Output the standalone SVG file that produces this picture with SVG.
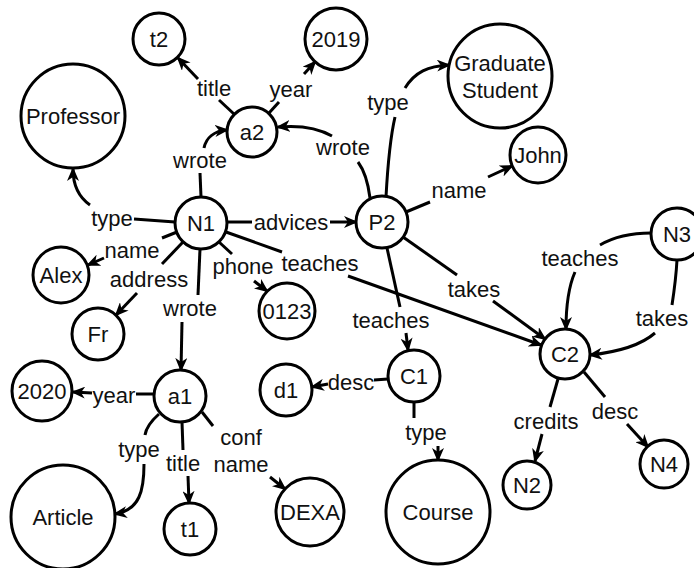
<svg xmlns="http://www.w3.org/2000/svg" width="694" height="568" viewBox="0 0 694 568">
<style>
.n{fill:#fff;stroke:#000;stroke-width:3}
text{font-family:"Liberation Sans",Arial,sans-serif;font-size:22px;fill:#111;text-anchor:middle}
.e{fill:none;stroke:#000;stroke-width:3}
.a{marker-end:url(#arr)}
</style>
<defs>
<marker id="arr" markerUnits="userSpaceOnUse" markerWidth="14" markerHeight="12" refX="12" refY="6" orient="auto" viewBox="0 0 14 12">
<path d="M0,0 L14,6 L0,12 L4,6 Z" fill="#000"/>
</marker>
</defs>
<rect width="694" height="568" fill="#fff"/>
<g id="edges">
<g id="e-n1-prof"><path class="e" d="M175,222 L134,219"/><path class="e a" d="M90,205 C80,198 73,188 73,169"/><text x="112" y="218" dy=".35em">type</text></g>
<g id="e-n1-a2"><path class="e" d="M201,197 L200,173"/><path class="e a" d="M204,148 C206,138 214,131 227,130"/><text x="200" y="160" dy=".35em">wrote</text></g>
<g id="e-a2-t2"><path class="e" d="M234,114 L219,100"/><path class="e a" d="M198,79 L178,58"/><text x="214" y="88" dy=".35em">title</text></g>
<g id="e-a2-2019"><path class="e" d="M269,113 L279,102"/><path class="e a" d="M304,74 L315,62"/><text x="291" y="89" dy=".35em">year</text></g>
<g id="e-p2-a2"><path class="e" d="M370,198 C368,182 364,170 358,162"/><path class="e a" d="M332,136 C318,128 300,125 278,127"/><text x="343" y="147" dy=".35em">wrote</text></g>
<g id="e-p2-grad"><path class="e" d="M386,197 C388,160 392,130 395,117"/><path class="e a" d="M405,88 C415,72 428,66 449,65"/><text x="388" y="102" dy=".35em">type</text></g>
<g id="e-p2-john"><path class="e" d="M406,212 L430,202"/><path class="e a" d="M488,177 L512,166"/><text x="459" y="190" dy=".35em">name</text></g>
<g id="e-n1-p2"><path class="e" d="M227,222 L252,222"/><path class="e a" d="M330,222 L356,222"/><text x="291" y="222" dy=".35em">advices</text></g>
<g id="e-n1-alex"><path class="e" d="M177,232 L162,238"/><path class="e a" d="M104,258 L88,265"/><text x="132" y="250" dy=".35em">name</text></g>
<g id="e-n1-fr"><path class="e" d="M183,242 L162,264"/><path class="e a" d="M137,293 L116,315"/><text x="149" y="279" dy=".35em">address</text></g>
<g id="e-n1-0123"><path class="e" d="M219,242 L232,254"/><path class="e a" d="M254,281 L267,291"/><text x="243" y="266" dy=".35em">phone</text></g>
<g id="e-n1-c2"><path class="e" d="M226,232 L282,252"/><path class="e a" d="M348,276 L541,345"/><text x="320" y="263" dy=".35em">teaches</text></g>
<g id="e-p2-c2"><path class="e" d="M403,237 L457,275"/><path class="e a" d="M493,301 L545,339"/><text x="474" y="289" dy=".35em">takes</text></g>
<g id="e-p2-c1"><path class="e" d="M387,248 L400,307"/><path class="e a" d="M406,333 L408,350"/><text x="391" y="320" dy=".35em">teaches</text></g>
<g id="e-n3-c2-teaches"><path class="e" d="M651,233 C630,233 612,238 600,245"/><path class="e a" d="M575,272 C568,288 566,308 566,329"/><text x="580" y="258" dy=".35em">teaches</text></g>
<g id="e-n3-c2-takes"><path class="e" d="M677,260 C676,278 674,292 672,305"/><path class="e a" d="M655,333 C640,346 618,352 590,355"/><text x="662" y="318" dy=".35em">takes</text></g>
<g id="e-c2-n2"><path class="e" d="M558,379 L550,407"/><path class="e a" d="M542,434 L535,461"/><text x="546" y="421" dy=".35em">credits</text></g>
<g id="e-c2-n4"><path class="e" d="M584,372 L605,397"/><path class="e a" d="M627,424 L648,447"/><text x="615" y="411" dy=".35em">desc</text></g>
<g id="e-c1-d1"><path class="e" d="M388,379 L374,380"/><path class="e a" d="M328,384 L312,387"/><text x="351" y="382" dy=".35em">desc</text></g>
<g id="e-c1-course"><path class="e" d="M414,402 L414,418"/><path class="e a" d="M438,446 L438,460"/><text x="426" y="432" dy=".35em">type</text></g>
<g id="e-n1-a1"><path class="e" d="M200,249 L198,295"/><path class="e a" d="M182,322 L181,370"/><text x="190" y="308" dy=".35em">wrote</text></g>
<g id="e-a1-2020"><path class="e" d="M154,394 L136,394"/><path class="e a" d="M92,393 L73,392"/><text x="114" y="395" dy=".35em">year</text></g>
<g id="e-a1-article"><path class="e" d="M159,414 C150,422 146,428 145,435"/><path class="e a" d="M144,464 C144,490 140,510 115,514"/><text x="139" y="449" dy=".35em">type</text></g>
<g id="e-a1-t1"><path class="e" d="M182,422 L183,450"/><path class="e a" d="M188,476 L189,503"/><text x="183" y="463" dy=".35em">title</text></g>
<g id="e-a1-dexa"><path class="e" d="M202,412 L213,426"/><path class="e a" d="M270,477 L285,489"/><text x="241" y="437" dy=".35em">conf</text><text x="241" y="464" dy=".35em">name</text></g>
</g>
<g id="node-t2"><circle class="n" cx="159" cy="39" r="26"/><text x="159" y="39" dy=".35em">t2</text></g>
<g id="node-2019"><circle class="n" cx="336" cy="39" r="31"/><text x="336" y="39" dy=".35em">2019</text></g>
<g id="node-professor"><circle class="n" cx="73" cy="116" r="52"/><text x="73" y="116" dy=".35em">Professor</text></g>
<g id="node-a2"><circle class="n" cx="252" cy="132" r="25"/><text x="252" y="132" dy=".35em">a2</text></g>
<g id="node-graduate"><circle class="n" cx="500" cy="76" r="52"/><text x="500" y="63" dy=".35em">Graduate</text><text x="500" y="90" dy=".35em">Student</text></g>
<g id="node-john"><circle class="n" cx="538" cy="155" r="28"/><text x="538" y="155" dy=".35em">John</text></g>
<g id="node-n1"><circle class="n" cx="201" cy="223" r="26"/><text x="201" y="223" dy=".35em">N1</text></g>
<g id="node-p2"><circle class="n" cx="382" cy="222" r="26"/><text x="382" y="222" dy=".35em">P2</text></g>
<g id="node-n3"><circle class="n" cx="677" cy="234" r="26"/><text x="677" y="234" dy=".35em">N3</text></g>
<g id="node-alex"><circle class="n" cx="61" cy="275" r="28"/><text x="61" y="275" dy=".35em">Alex</text></g>
<g id="node-fr"><circle class="n" cx="98" cy="334" r="26"/><text x="98" y="334" dy=".35em">Fr</text></g>
<g id="node-0123"><circle class="n" cx="287" cy="311" r="28"/><text x="287" y="311" dy=".35em">0123</text></g>
<g id="node-c2"><circle class="n" cx="565" cy="354" r="25"/><text x="565" y="354" dy=".35em">C2</text></g>
<g id="node-c1"><circle class="n" cx="414" cy="376" r="26"/><text x="414" y="376" dy=".35em">C1</text></g>
<g id="node-a1"><circle class="n" cx="180" cy="396" r="26"/><text x="180" y="396" dy=".35em">a1</text></g>
<g id="node-2020"><circle class="n" cx="42" cy="391" r="30"/><text x="42" y="391" dy=".35em">2020</text></g>
<g id="node-d1"><circle class="n" cx="286" cy="390" r="26"/><text x="286" y="390" dy=".35em">d1</text></g>
<g id="node-article"><circle class="n" cx="63" cy="517" r="52"/><text x="63" y="517" dy=".35em">Article</text></g>
<g id="node-t1"><circle class="n" cx="190" cy="529" r="26"/><text x="190" y="529" dy=".35em">t1</text></g>
<g id="node-dexa"><circle class="n" cx="310" cy="512" r="34"/><text x="310" y="512" dy=".35em">DEXA</text></g>
<g id="node-course"><circle class="n" cx="438" cy="512" r="52"/><text x="438" y="512" dy=".35em">Course</text></g>
<g id="node-n2"><circle class="n" cx="527" cy="485" r="24"/><text x="527" y="485" dy=".35em">N2</text></g>
<g id="node-n4"><circle class="n" cx="664" cy="464" r="24"/><text x="664" y="464" dy=".35em">N4</text></g>
</svg>
